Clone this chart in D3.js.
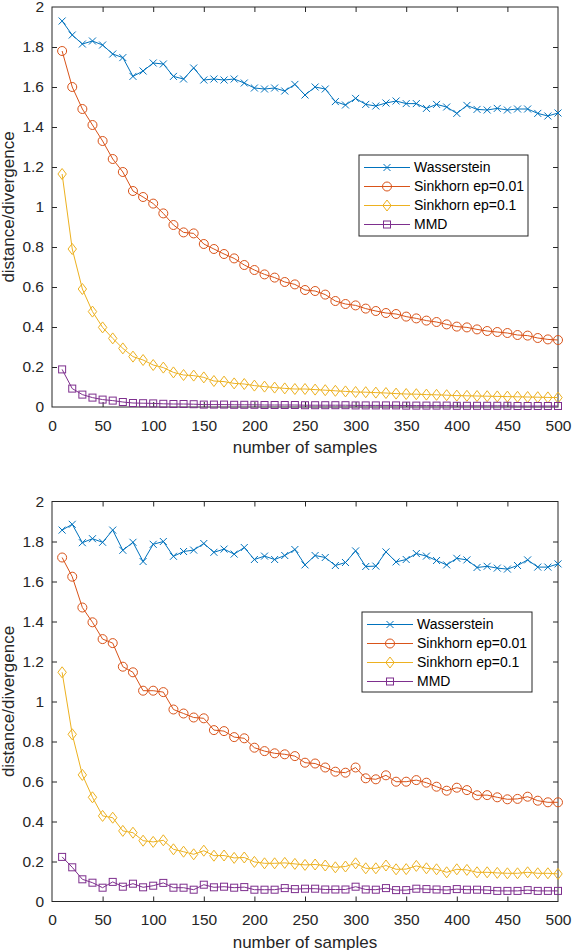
<!DOCTYPE html>
<html>
<head>
<meta charset="utf-8">
<script src="https://cdn.jsdelivr.net/npm/d3@7"></script>
<style>
  body { margin: 0; background: #fff; }
  svg { display: block; font-family: "Liberation Sans", Arial, sans-serif; }
  .axis text { fill: #262626; font-size: 15.5px; }
  .axis line { stroke: #262626; }
</style>
</head>
<body>
<svg width="572" height="950"></svg>
<script>
// number of samples (x positions of every point)
var samples = [10, 20, 30, 40, 50, 60, 70, 80, 90, 100,
    110, 120, 130, 140, 150, 160, 170, 180, 190, 200,
    210, 220, 230, 240, 250, 260, 270, 280, 290, 300,
    310, 320, 330, 340, 350, 360, 370, 380, 390, 400,
    410, 420, 430, 440, 450, 460, 470, 480, 490, 500];

var seriesNames = ["Wasserstein", "Sinkhorn ep=0.01", "Sinkhorn ep=0.1", "MMD"];

// top panel
var wass1 = [1.93, 1.86, 1.815, 1.83, 1.81, 1.765, 1.747, 1.653, 1.68, 1.72,
    1.715, 1.653, 1.64, 1.695, 1.635, 1.64, 1.635, 1.64, 1.62, 1.595,
    1.59, 1.595, 1.58, 1.613, 1.56, 1.60, 1.59, 1.527, 1.51, 1.543,
    1.513, 1.505, 1.52, 1.53, 1.517, 1.517, 1.493, 1.513, 1.50, 1.468,
    1.508, 1.488, 1.485, 1.493, 1.485, 1.49, 1.49, 1.468, 1.455, 1.47];
var sinkA1 = [1.78, 1.60, 1.49, 1.41, 1.33, 1.24, 1.175, 1.08, 1.05, 1.017,
    0.968, 0.91, 0.873, 0.868, 0.815, 0.79, 0.765, 0.743, 0.71, 0.685,
    0.663, 0.647, 0.625, 0.613, 0.585, 0.58, 0.562, 0.53, 0.515, 0.508,
    0.492, 0.48, 0.47, 0.465, 0.452, 0.443, 0.432, 0.425, 0.413, 0.402,
    0.398, 0.388, 0.38, 0.375, 0.37, 0.36, 0.357, 0.345, 0.338, 0.335];
var sinkB1 = [1.165, 0.79, 0.59, 0.477, 0.398, 0.343, 0.293, 0.252, 0.235, 0.21,
    0.197, 0.173, 0.16, 0.157, 0.148, 0.13, 0.127, 0.118, 0.115, 0.107,
    0.102, 0.097, 0.093, 0.09, 0.09, 0.087, 0.084, 0.081, 0.078, 0.075,
    0.074, 0.072, 0.07, 0.067, 0.065, 0.064, 0.062, 0.061, 0.059, 0.057,
    0.056, 0.055, 0.054, 0.053, 0.052, 0.051, 0.05, 0.049, 0.048, 0.047];
var mmd1 = [0.188, 0.092, 0.062, 0.047, 0.037, 0.032, 0.025, 0.02, 0.019, 0.018,
    0.016, 0.015, 0.015, 0.014, 0.012, 0.012, 0.012, 0.011, 0.011, 0.011,
    0.01, 0.01, 0.01, 0.01, 0.009, 0.009, 0.009, 0.009, 0.009, 0.008,
    0.008, 0.008, 0.008, 0.008, 0.007, 0.007, 0.007, 0.007, 0.007, 0.006,
    0.006, 0.006, 0.006, 0.006, 0.006, 0.005, 0.005, 0.005, 0.005, 0.005];

// bottom panel
var wass2 = [1.857, 1.886, 1.794, 1.814, 1.796, 1.857, 1.756, 1.796, 1.70, 1.786,
    1.80, 1.726, 1.75, 1.757, 1.79, 1.746, 1.762, 1.737, 1.77, 1.71,
    1.727, 1.71, 1.73, 1.76, 1.683, 1.73, 1.72, 1.68, 1.695, 1.753,
    1.675, 1.677, 1.748, 1.698, 1.71, 1.74, 1.727, 1.705, 1.683, 1.716,
    1.708, 1.67, 1.676, 1.667, 1.662, 1.68, 1.708, 1.672, 1.672, 1.688];
var sinkA2 = [1.72, 1.624, 1.47, 1.396, 1.312, 1.292, 1.174, 1.146, 1.054, 1.054,
    1.047, 0.96, 0.94, 0.92, 0.916, 0.857, 0.852, 0.822, 0.816, 0.769,
    0.752, 0.741, 0.736, 0.727, 0.694, 0.69, 0.67, 0.649, 0.644, 0.67,
    0.616, 0.611, 0.631, 0.599, 0.599, 0.607, 0.594, 0.574, 0.554, 0.569,
    0.557, 0.531, 0.532, 0.521, 0.511, 0.513, 0.524, 0.504, 0.496, 0.496];
var sinkB2 = [1.146, 0.836, 0.633, 0.521, 0.428, 0.419, 0.353, 0.344, 0.304, 0.298,
    0.306, 0.261, 0.249, 0.236, 0.254, 0.229, 0.23, 0.218, 0.22, 0.198,
    0.191, 0.191, 0.193, 0.188, 0.183, 0.185, 0.18, 0.171, 0.175, 0.191,
    0.166, 0.166, 0.18, 0.161, 0.162, 0.178, 0.166, 0.161, 0.146, 0.161,
    0.158, 0.146, 0.146, 0.143, 0.141, 0.141, 0.146, 0.141, 0.141, 0.138];
var mmd2 = [0.223, 0.171, 0.111, 0.094, 0.069, 0.098, 0.074, 0.089, 0.071, 0.079,
    0.093, 0.069, 0.069, 0.059, 0.084, 0.071, 0.074, 0.069, 0.072, 0.059,
    0.059, 0.059, 0.067, 0.062, 0.064, 0.064, 0.06, 0.06, 0.06, 0.074,
    0.06, 0.059, 0.067, 0.057, 0.057, 0.064, 0.062, 0.06, 0.057, 0.062,
    0.059, 0.059, 0.057, 0.053, 0.053, 0.053, 0.057, 0.053, 0.053, 0.053];

var xTicks = [0, 50, 100, 150, 200, 250, 300, 350, 400, 450, 500];
var yTicks = [0, 0.2, 0.4, 0.6, 0.8, 1, 1.2, 1.4, 1.6, 1.8, 2];
var yTickLabels = ["0", "0.2", "0.4", "0.6", "0.8", "1", "1.2", "1.4", "1.6", "1.8", "2"];

var colors = ["#0072BD", "#D95319", "#EDB120", "#7E2F8E"];
var markers = ["x", "o", "d", "s"];

var svg = d3.select("svg");

var x = d3.scaleLinear().domain([0, 500]).range([52, 558]);

drawPanel([wass1, sinkA1, sinkB1, mmd1], 7, 407, {x: 359, y: 155, w: 169, h: 81});
drawPanel([wass2, sinkA2, sinkB2, mmd2], 501.5, 901.5, {x: 362, y: 612, w: 170, h: 80});

function drawMarker(g, type, cx, cy, color) {
    if (type == "o") {
        g.append("circle").attr("cx", cx).attr("cy", cy).attr("r", 4.5)
            .attr("fill", "none").attr("stroke", color);
    } else if (type == "x") {
        g.append("path")
            .attr("d", "M" + (cx - 3.5) + "," + (cy - 3.5) + "L" + (cx + 3.5) + "," + (cy + 3.5) +
                "M" + (cx - 3.5) + "," + (cy + 3.5) + "L" + (cx + 3.5) + "," + (cy - 3.5))
            .attr("fill", "none").attr("stroke", color);
    } else if (type == "d") {
        g.append("path")
            .attr("d", "M" + cx + "," + (cy - 5.5) + "L" + (cx + 4.2) + "," + cy +
                "L" + cx + "," + (cy + 5.5) + "L" + (cx - 4.2) + "," + cy + "Z")
            .attr("fill", "none").attr("stroke", color);
    } else {
        g.append("rect").attr("x", cx - 3.5).attr("y", cy - 3.5)
            .attr("width", 7).attr("height", 7)
            .attr("fill", "none").attr("stroke", color);
    }
}

function drawPanel(series, top, bottom, lg) {
    var y = d3.scaleLinear().domain([0, 2]).range([bottom, top]);
    var g = svg.append("g");

    // axes, ticks pointing inward on all four sides
    g.append("g").attr("class", "axis")
        .attr("transform", "translate(0," + bottom + ")")
        .call(d3.axisBottom(x).tickValues(xTicks).tickSizeInner(-5).tickSizeOuter(0).tickPadding(12.5));
    g.append("g").attr("class", "axis")
        .attr("transform", "translate(0," + top + ")")
        .call(d3.axisTop(x).tickValues(xTicks).tickSizeInner(-5).tickSizeOuter(0).tickFormat(""));
    g.append("g").attr("class", "axis")
        .attr("transform", "translate(" + x(0) + ",0)")
        .call(d3.axisLeft(y).tickValues(yTicks).tickSizeInner(-5).tickSizeOuter(0).tickPadding(8)
            .tickFormat(function(d, i) { return yTickLabels[i]; }));
    g.append("g").attr("class", "axis")
        .attr("transform", "translate(" + x(500) + ",0)")
        .call(d3.axisRight(y).tickValues(yTicks).tickSizeInner(-5).tickSizeOuter(0).tickFormat(""));
    g.selectAll(".axis .domain").remove();
    g.selectAll(".axis .tick").filter(function(d) { return d == 0 || d == 500 || d == 2; }).select("line").remove();

    g.append("rect")
        .attr("x", x(0)).attr("y", top)
        .attr("width", x(500) - x(0)).attr("height", bottom - top)
        .attr("fill", "none").attr("stroke", "#262626").attr("stroke-width", 1);

    var line = d3.line()
        .x(function(d, i) { return x(samples[i]); })
        .y(function(d) { return y(d); });

    series.forEach(function(s, k) {
        var sg = g.append("g");
        sg.append("path").datum(s)
            .attr("d", line)
            .attr("fill", "none")
            .attr("stroke", colors[k])
            .attr("stroke-width", 1);
        s.forEach(function(v, i) {
            drawMarker(sg, markers[k], x(samples[i]), y(v), colors[k]);
        });
    });

    // axis labels
    g.append("text")
        .attr("x", (x(0) + x(500)) / 2)
        .attr("y", bottom + 46)
        .attr("text-anchor", "middle")
        .attr("fill", "#262626")
        .style("font-size", "17px")
        .text("number of samples");
    g.append("text")
        .attr("transform", "translate(14," + (top + bottom) / 2 + ") rotate(-90)")
        .attr("text-anchor", "middle")
        .attr("fill", "#262626")
        .style("font-size", "17px")
        .text("distance/divergence");

    // legend
    var leg = g.append("g").attr("transform", "translate(" + lg.x + "," + lg.y + ")");
    leg.append("rect")
        .attr("width", lg.w).attr("height", lg.h)
        .attr("fill", "#fff").attr("stroke", "#262626").attr("stroke-width", 1);
    seriesNames.forEach(function(name, k) {
        var ly = 12.5 + k * 19;
        leg.append("line")
            .attr("x1", 5).attr("x2", 51)
            .attr("y1", ly).attr("y2", ly)
            .attr("stroke", colors[k]);
        drawMarker(leg, markers[k], 28, ly, colors[k]);
        leg.append("text")
            .attr("x", 55).attr("y", ly)
            .attr("dy", "0.35em")
            .attr("fill", "#000")
            .style("font-size", "14px")
            .text(name);
    });
}
</script>
</body>
</html>
